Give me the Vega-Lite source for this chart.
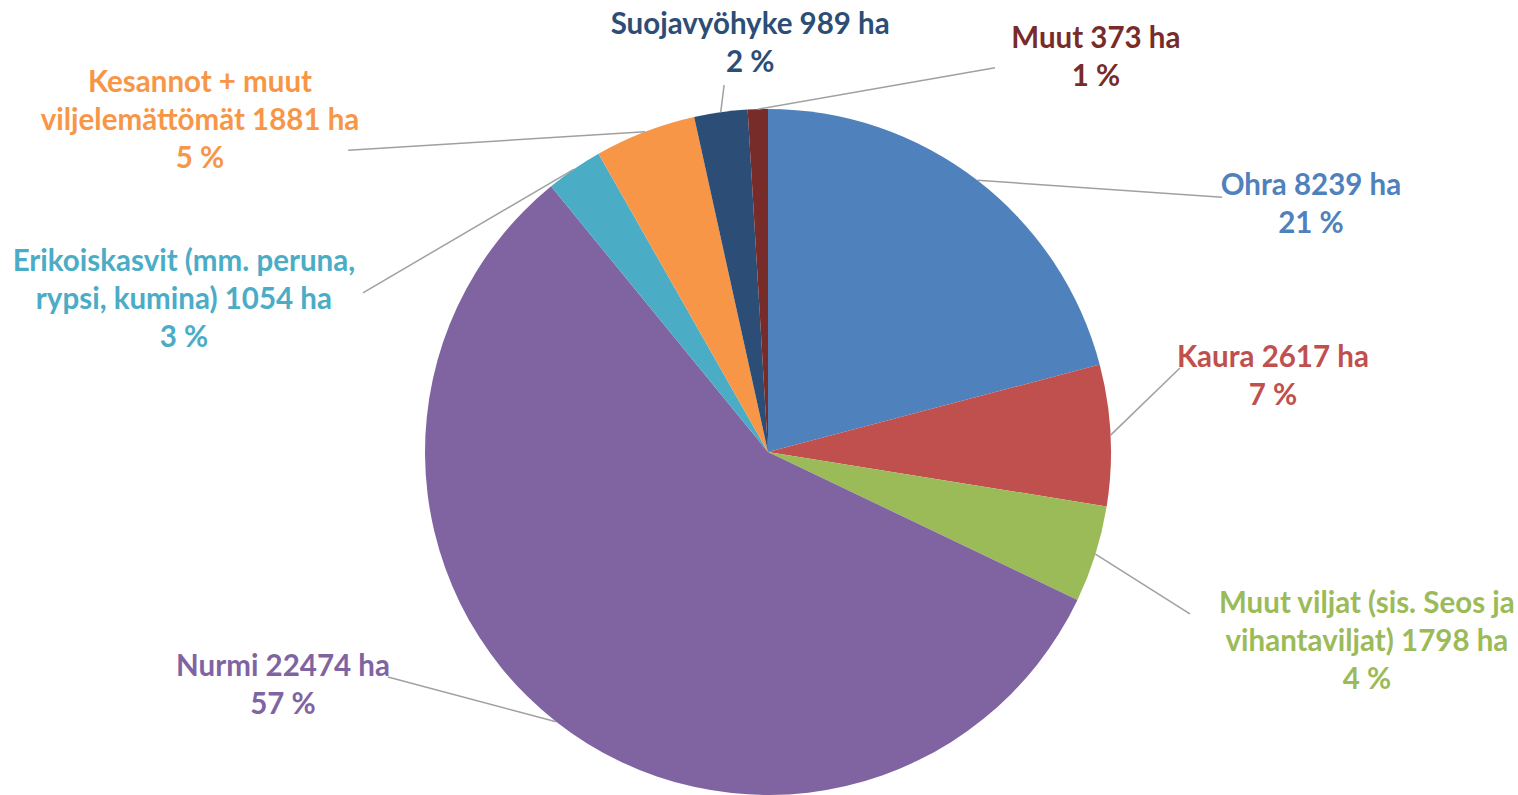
{
  "$schema": "https://vega.github.io/schema/vega-lite/v6.json",
  "width": 1518,
  "height": 795,
  "autosize": "none",
  "padding": 0,
  "background": "white",
  "config": {"view": {"stroke": null}},
  "data": {
    "values": [
      {"i": 1, "crop": "Ohra", "ha": 8239, "label": "Ohra 8239 ha|21 %", "lx": 1.583, "ly": 0.7755, "tx": 1.324, "ty": 0.743},
      {"i": 2, "crop": "Kaura", "ha": 2617, "label": "Kaura 2617 ha|7 %", "lx": 1.472, "ly": 0.2741, "tx": 1.201, "ty": 0.245},
      {"i": 3, "crop": "Muut viljat", "ha": 1798, "label": "Muut viljat (sis. Seos ja|vihantaviljat) 1798 ha|4 %", "lx": 1.746, "ly": -0.4431, "tx": 1.230, "ty": -0.472},
      {"i": 4, "crop": "Nurmi", "ha": 22474, "label": "Nurmi 22474 ha|57 %", "lx": -1.414, "ly": -0.6268, "tx": -1.108, "ty": -0.656},
      {"i": 5, "crop": "Erikoiskasvit", "ha": 1054, "label": "Erikoiskasvit (mm. peruna,|rypsi, kumina) 1054 ha|3 %", "lx": -1.703, "ly": 0.5539, "tx": -1.181, "ty": 0.464},
      {"i": 6, "crop": "Kesannot", "ha": 1881, "label": "Kesannot + muut|viljelemättömät 1881 ha|5 %", "lx": -1.656, "ly": 1.0758, "tx": -1.224, "ty": 0.880},
      {"i": 7, "crop": "Suojavyöhyke", "ha": 989, "label": "Suojavyöhyke 989 ha|2 %", "lx": -0.052, "ly": 1.2449, "tx": -0.128, "ty": 1.070},
      {"i": 8, "crop": "Muut", "ha": 373, "label": "Muut 373 ha|1 %", "lx": 0.956, "ly": 1.2041, "tx": 0.662, "ty": 1.120}
    ]
  },
  "transform": [
    {"joinaggregate": [{"op": "sum", "field": "ha", "as": "total"}]},
    {"window": [{"op": "sum", "field": "ha", "as": "cum"}], "sort": [{"field": "i"}], "frame": [null, 0]},
    {"calculate": "2*PI*(datum.cum - datum.ha/2)/datum.total", "as": "mid"},
    {"calculate": "sin(datum.mid)", "as": "ex"},
    {"calculate": "cos(datum.mid)", "as": "ey"}
  ],
  "layer": [
    {
      "mark": {"type": "arc", "radius": 343, "stroke": null},
      "encoding": {
        "x": {"datum": 0, "type": "quantitative", "scale": {"domain": [-2.2391, 2.1866], "nice": false, "zero": false}, "axis": null},
        "y": {"datum": 0, "type": "quantitative", "scale": {"domain": [-1.0, 1.3178], "nice": false, "zero": false}, "axis": null},
        "theta": {"field": "ha", "type": "quantitative", "stack": true},
        "order": {"field": "i", "type": "quantitative"},
        "color": {
          "field": "crop", "type": "nominal", "legend": null,
          "scale": {
            "domain": ["Ohra", "Kaura", "Muut viljat", "Nurmi", "Erikoiskasvit", "Kesannot", "Suojavyöhyke", "Muut"],
            "range": ["#4F81BD", "#C0504D", "#9BBB59", "#8064A2", "#4BACC6", "#F79646", "#2C4D75", "#772C2A"]
          }
        }
      }
    },
    {
      "mark": {"type": "rule", "color": "#a0a0a0", "strokeWidth": 1.5},
      "encoding": {
        "x": {"field": "ex", "type": "quantitative", "scale": {"domain": [-2.2391, 2.1866], "nice": false, "zero": false}, "axis": null},
        "y": {"field": "ey", "type": "quantitative", "scale": {"domain": [-1.0, 1.3178], "nice": false, "zero": false}, "axis": null},
        "x2": {"field": "tx"},
        "y2": {"field": "ty"}
      }
    },
    {
      "mark": {"type": "text", "font": "Lato", "fontWeight": "bold", "fontSize": 29.5, "lineHeight": 38, "lineBreak": "|", "align": "center", "baseline": "middle"},
      "encoding": {
        "x": {"field": "lx", "type": "quantitative", "scale": {"domain": [-2.2391, 2.1866], "nice": false, "zero": false}, "axis": null},
        "y": {"field": "ly", "type": "quantitative", "scale": {"domain": [-1.0, 1.3178], "nice": false, "zero": false}, "axis": null},
        "text": {"field": "label"},
        "color": {"field": "crop", "type": "nominal", "legend": null}
      }
    }
  ]
}
